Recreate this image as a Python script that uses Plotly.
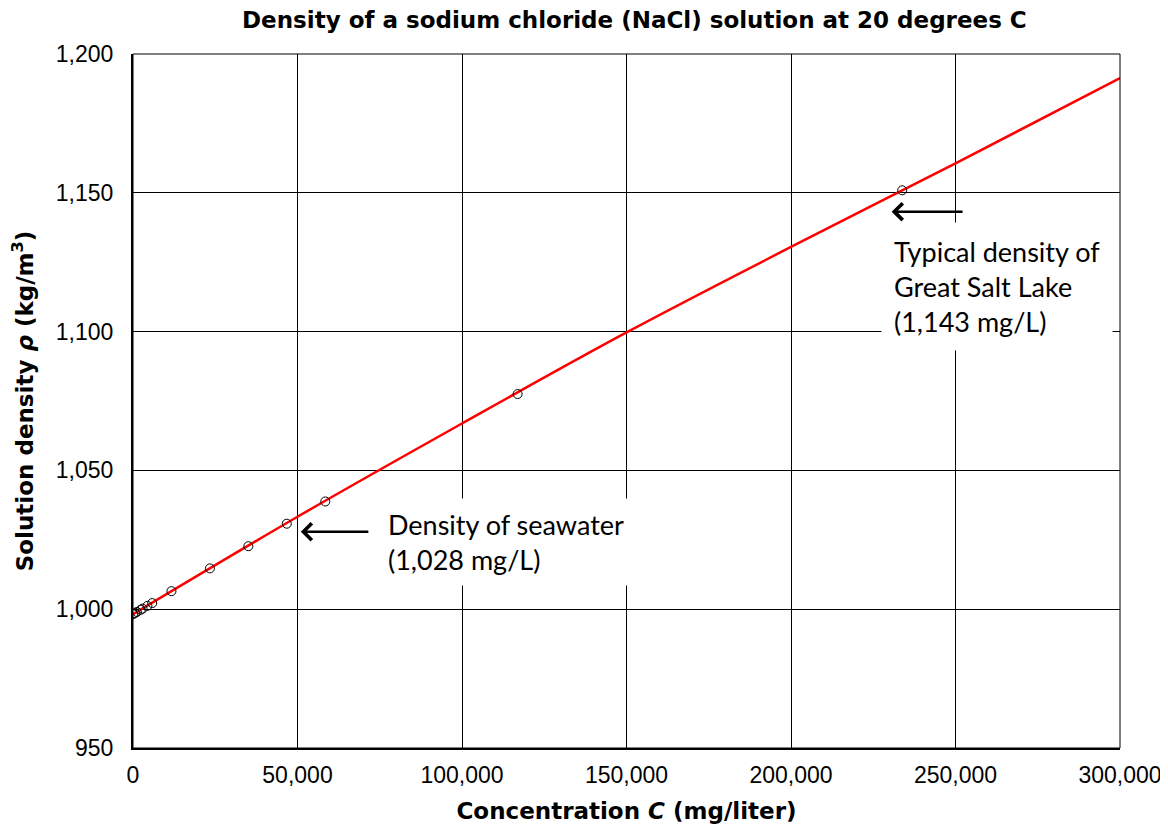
import plotly.graph_objects as go

# Measured data points (concentration mg/L, density kg/m3)
conc = [0, 584, 1169, 2338, 2922, 4383, 5844, 11690, 23380, 35060, 46750, 58440, 116900, 233800]
dens = [998.2, 998.6, 999.0, 999.8, 1000.2, 1001.2, 1002.2, 1006.5, 1014.7, 1022.7, 1030.8, 1038.8, 1077.5, 1150.9]

# Fitted curve
fit_conc = [0, 50000, 100000, 150000, 200000, 250000, 300000]
fit_dens = [998.2, 1033.3, 1066.9, 1099.7, 1130.5, 1160.6, 1191.3]

x_ticks = [0, 50000, 100000, 150000, 200000, 250000, 300000]
y_ticks = [950, 1000, 1050, 1100, 1150, 1200]

fig = go.Figure()
fig.add_trace(go.Scatter(x=fit_conc, y=fit_dens, mode="lines", line=dict(color="#ff0000", width=2.5, shape="spline"),
                         showlegend=False))
fig.add_trace(go.Scatter(x=conc, y=dens, mode="markers",
                         marker=dict(symbol="circle-open", size=9, color="black", line=dict(width=1)),
                         showlegend=False))

txtfont = dict(family="Lato, Open Sans, sans-serif", size=27, color="black")

# annotation boxes (text with white background)
fig.add_annotation(x=74500, y=1024.2, xref="x", yref="y", xanchor="left", yanchor="middle",
                   text="Density of seawater<br>(1,028 mg/L)", showarrow=False, align="left",
                   font=txtfont, bgcolor="white", borderpad=9)
fig.add_annotation(x=227500, y=1116.1, xref="x", yref="y", xanchor="left", yanchor="middle",
                   text="Typical density of<br>Great Salt Lake<br>(1,143 mg/L)", showarrow=False, align="left",
                   font=txtfont, bgcolor="white", borderpad=12)

# arrows
fig.add_annotation(x=51000, y=1027.9, ax=72000, ay=1027.9, xref="x", yref="y", axref="x", ayref="y",
                   text="", showarrow=True, arrowhead=4, arrowsize=1.3, arrowwidth=2.5, arrowcolor="black")
fig.add_annotation(x=230600, y=1143.2, ax=252600, ay=1143.2, xref="x", yref="y", axref="x", ayref="y",
                   text="", showarrow=True, arrowhead=4, arrowsize=1.3, arrowwidth=2.5, arrowcolor="black")

fig.update_layout(
    width=1160, height=824,
    margin=dict(l=125, r=48, t=46, b=84),
    paper_bgcolor="white", plot_bgcolor="white",
    title=dict(text="<b>Density of a sodium chloride (NaCl) solution at 20 degrees C</b>",
               x=0.54, xanchor="center", yanchor="middle",
               font=dict(family="DejaVu Sans, Arial, sans-serif", size=23, color="black")),
    font=dict(family="Arial, Liberation Sans, sans-serif", size=23, color="black"),
)
fig.update_layout(title_y=1 - 12 / 824)
fig.update_xaxes(range=[0, 300000], tickvals=x_ticks, tickformat=",", showgrid=True, gridcolor="black", gridwidth=1,
                 showline=True, linecolor="black", linewidth=2, ticks="", zeroline=False,
                 tickfont=dict(size=23), ticklabelstandoff=5, automargin=False, ticklabeloverflow="allow",
                 title=dict(text="<b>Concentration <i>C</i> (mg/liter)</b>",
                            font=dict(family="DejaVu Sans, Arial, sans-serif", size=23), standoff=16))
fig.update_yaxes(range=[950, 1200], tickvals=y_ticks, tickformat=",", showgrid=True, gridcolor="black", gridwidth=1,
                 showline=True, linecolor="black", linewidth=2, ticks="", zeroline=False,
                 tickfont=dict(size=23), ticklabelstandoff=13,
                 title=dict(text="<b>Solution density <i>ρ</i> (kg/m<sup>3</sup>)</b>",
                            font=dict(family="DejaVu Sans, Arial, sans-serif", size=23), standoff=17))
# thin frame top/right
fig.add_shape(type="rect", xref="paper", yref="paper", x0=0, y0=0, x1=1, y1=1,
              line=dict(color="black", width=1), layer="above")

fig.write_html("out.html")
